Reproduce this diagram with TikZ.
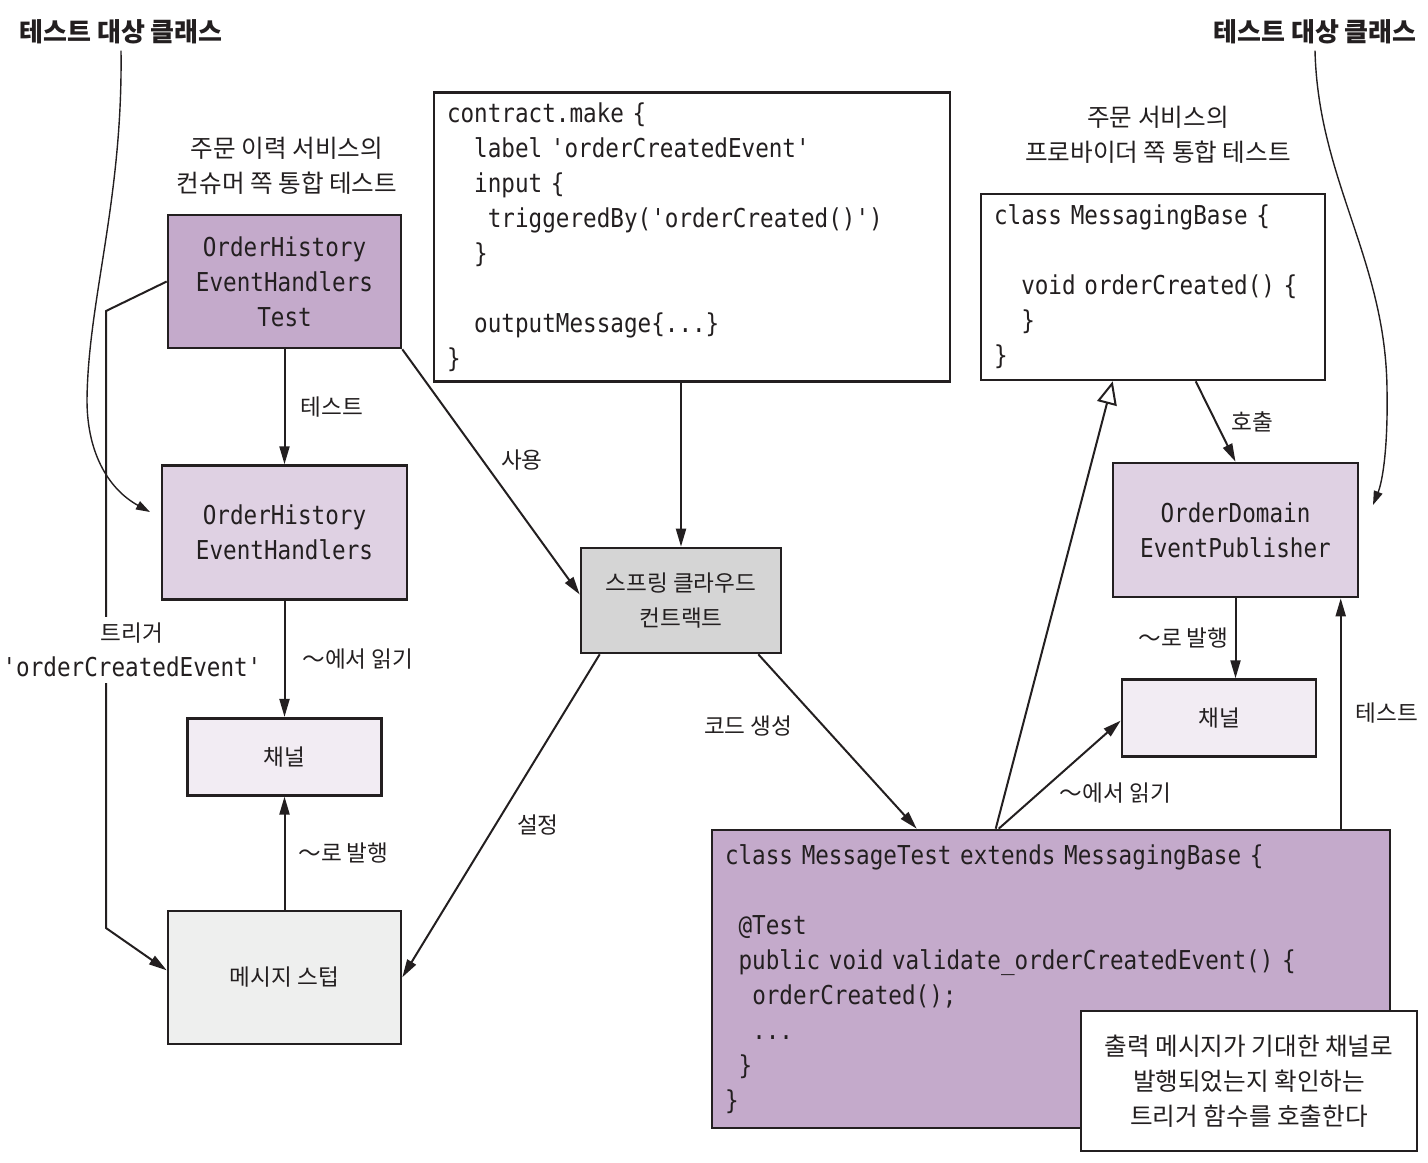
\documentclass[tikz,border=0pt]{standalone}
\usepackage{fontspec}
\setmainfont{Noto Sans CJK KR}
\setmonofont[FakeStretch=0.87]{DejaVu Sans Mono}
\usepackage{xcolor}
\usepackage{tikz}
\usetikzlibrary{
    shapes,
    positioning,
    calc,
    arrows.meta
}
\definecolor{inkline}{RGB}{35,31,32}
\definecolor{plumdark}{RGB}{196,170,203}
\definecolor{plumlight}{RGB}{223,209,227}
\definecolor{plumpale}{RGB}{242,236,243}
\definecolor{stubgray}{RGB}{238,239,238}
\definecolor{springgray}{RGB}{213,213,213}

\newcommand{\codesize}{\ttfamily\fontsize{13}{17.5}\selectfont}
\newcommand{\korsize}{\fontsize{11.3}{17.5}\selectfont}
\newcommand{\notesize}{\fontsize{12.3}{17.5}\selectfont}
\newcommand{\codegap}[1]{\hspace*{#1\dimexpr 6.81pt\relax}}

\tikzset{
  basic/.style = {
      draw=inkline,
      line width=1.3pt,
      rectangle,
      inner sep=0pt,
      text=inkline,
      align=center
  },
  classbox/.style = {
      basic,
      fill=plumdark,
      font=\codesize,
      minimum width=116.5pt,
      minimum height=66.5pt
  },
  targetbox/.style = {
      classbox,
      fill=plumlight,
      minimum width=122.5pt,
      minimum height=67pt
  },
  channel/.style = {
      basic,
      fill=plumpale,
      font=\korsize,
      minimum width=97pt,
      minimum height=38.5pt
  },
  codebox/.style = {
      basic,
      fill=white,
      font=\codesize,
      align=left
  },
  korbox/.style = {
      basic,
      font=\korsize
  },
  tag/.style = {
      text=inkline,
      font=\korsize,
      align=center,
      inner sep=3pt
  },
  title/.style = {
      tag,
      font=\bfseries\fontsize{13}{15}\selectfont
  },
  subtitle/.style = {
      tag,
      font=\notesize
  },
  arrow/.style = {
      draw=inkline,
      line width=1pt,
      -{Triangle[length=9pt,width=5pt]}
  },
  inherit/.style = {
      draw=inkline,
      line width=1pt,
      -{Triangle[fill=white,length=11.5pt,width=10pt]}
  },
  pointer/.style = {
      draw=inkline,
      line width=0.7pt,
      -{Triangle[length=7pt,width=4.5pt]}
  }
}

\begin{document}
\begin{tikzpicture}[x=0.5pt, y=-0.5pt]
    \useasboundingbox (0,0) rectangle (1428,1162);
    % Titles
    \node[title] (tgtL) at (121,32) {테스트 대상 클래스};
    \node[title] (tgtR) at (1315,32) {테스트 대상 클래스};
    \node[subtitle] (subL) at (287,165.5) {주문 이력 서비스의\\컨슈머 쪽 통합 테스트};
    \node[subtitle] (subR) at (1158,135) {주문 서비스의\\프로바이더 쪽 통합 테스트};
    % Consumer side
    \node[classbox] (test) at (284.5,281.5) {OrderHistory\\EventHandlers\\Test};
    \node[targetbox, below=57.5pt of test] (handlers) {OrderHistory\\EventHandlers};
    \node[channel, below=58pt of handlers] (chanL) {채널};
    \node[korbox, fill=stubgray, minimum width=116.5pt, minimum height=66.5pt,
          below=56.5pt of chanL] (stub) {메시지 스텁};
    % Contract
    \node[codebox, minimum width=258pt, minimum height=144.5pt, text width=245pt]
        (contract) at (692,237) {contract.make \{\\
        \codegap{2}label 'orderCreatedEvent'\\
        \codegap{2}input \{\\
        \codegap{3}triggeredBy('orderCreated()')\\
        \codegap{2}\}\\
        \mbox{}\\
        \codegap{2}outputMessage\{...\}\\
        \}};
    \node[korbox, fill=springgray, minimum width=100pt, minimum height=52.5pt]
        (spring) at (681,600.5) {스프링 클라우드\\컨트랙트};
    % Provider side
    \node[codebox, minimum width=172pt, minimum height=93pt, text width=159pt]
        (base) at (1153,287) {class MessagingBase \{\\
        \mbox{}\\
        \codegap{2}void orderCreated() \{\\
        \codegap{2}\}\\
        \}};
    \node[targetbox] (publisher) at (1235.5,530) {OrderDomain\\EventPublisher};
    \node[channel, below=40pt of publisher, xshift=-8.25pt] (chanR) {채널};
    \node[codebox, fill=plumdark, minimum width=339pt, minimum height=149pt, text width=326pt]
        (msgtest) at (1051,979) {class MessageTest extends MessagingBase \{\\
        \mbox{}\\
        \codegap{1}@Test\\
        \codegap{1}public void validate\_orderCreatedEvent() \{\\
        \codegap{2}orderCreated();\\
        \codegap{2}...\\
        \codegap{1}\}\\
        \}};
    \node[basic, fill=white, font=\notesize, minimum width=168pt, minimum height=70pt]
        (note) at (1249,1081) {출력 메시지가 기대한 채널로\\발행되었는지 확인하는\\트리거 함수를 호출한다};
    % Free ends
    \coordinate (bendA) at (106,311);
    \coordinate (bendB) at (106,928);
    \coordinate (tipL) at (150,512);
    \coordinate (tipR) at (1373,505);
    \coordinate (testR) at ([xshift=315pt]msgtest.north west);
    % Edges
    \draw[pointer] (tgtL.south) .. controls (123,200) and (88,300) .. (87,400)
        .. controls (87,455) and (110,490) .. (tipL);
    \draw[pointer] (tgtR.south) .. controls (1318,180) and (1386,260) .. (1387,390)
        .. controls (1388,445) and (1383,480) .. (tipR);
    \draw[arrow] (test) -- (handlers) node[tag, midway, right=4.5pt] {테스트};
    \draw[arrow] (handlers) -- (chanL) node[tag, midway, right=5.5pt] {～에서 읽기};
    \draw[arrow] (stub) -- (chanL) node[tag, midway, right=3.5pt] {～로 발행};
    \draw[arrow] (test.west) -- (bendA)
        -- node[tag, fill=white, pos=0.549, xshift=13pt] {트리거\\{\codesize 'orderCreatedEvent'}} (bendB)
        -- ([yshift=3.5pt]stub.west);
    \draw[arrow] (test.south east) -- ([yshift=3pt]spring.west)
        node[tag, pos=0.45, right=6pt] {사용};
    \draw[arrow] (contract.south -| spring.north) -- (spring.north);
    \draw[arrow] ([xshift=10pt]spring.south west) -- (stub.east)
        node[tag, pos=0.53, right=7.5pt] {설정};
    \draw[arrow] ([xshift=-12pt]spring.south east) -- ([xshift=103pt]msgtest.north west)
        node[tag, pos=0.41, left=12pt] {코드 생성};
    \draw[inherit] ([xshift=142.5pt]msgtest.north west) -- ([xshift=66.5pt]base.south west);
    \draw[arrow] ([xshift=144pt]msgtest.north west) -- ([yshift=-1.25pt]chanR.west)
        node[tag, pos=0.33, right=7pt] {～에서 읽기};
    \draw[arrow] ([xshift=108pt]base.south west) -- (publisher.north)
        node[tag, midway, right=4.5pt] {호출};
    \draw[arrow] (publisher.south) -- (publisher.south |- chanR.north)
        node[tag, midway, left=0pt] {～로 발행};
    \draw[arrow] (testR) -- (testR |- publisher.south)
        node[tag, midway, right=4pt] {테스트};
\end{tikzpicture}
\end{document}
